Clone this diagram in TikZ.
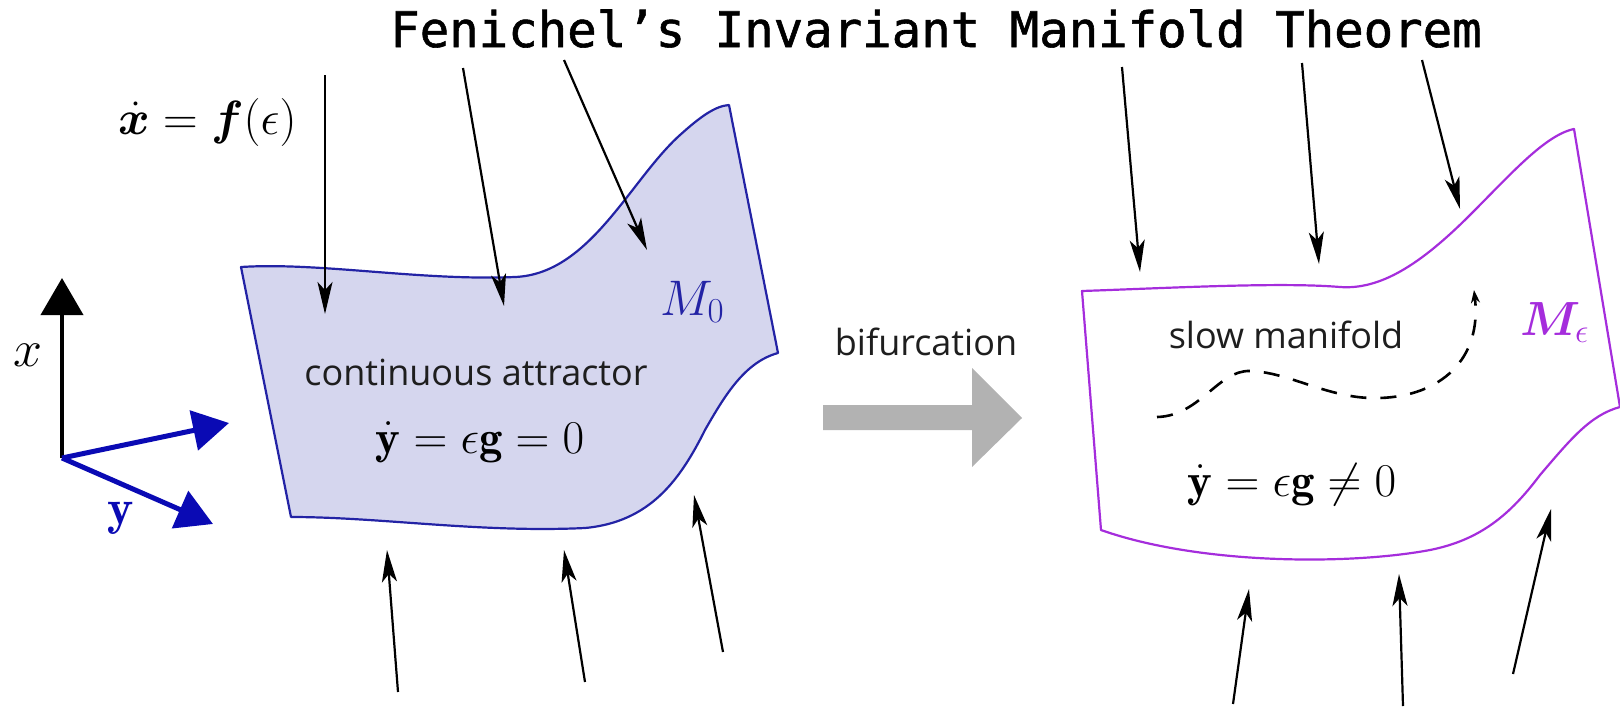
\RequirePackage{fix-cm}
\documentclass[tikz,border=0pt]{standalone}
\usepackage{amsmath,amssymb,bm}
\usepackage{fontspec}
\newfontfamily\titlefont[UprightFeatures={FakeBold=1.2}]{DejaVu Sans Mono}
\newfontfamily\labelfont{Open Sans}
\usetikzlibrary{arrows.meta}
\definecolor{mzero}{RGB}{35,35,165}
\definecolor{mfill}{RGB}{213,214,238}
\definecolor{meps}{RGB}{165,45,220}
\definecolor{axblue}{RGB}{10,10,180}
\definecolor{bigarrow}{RGB}{178,178,178}
\definecolor{txt}{RGB}{30,30,30}
\tikzset{
  flow/.style={line width=2.2pt,-{Stealth[length=32pt,width=15pt,inset=8pt]}},
  sanslabel/.style={font=\labelfont\fontsize{36}{40}\selectfont,text=txt,inner sep=0pt,anchor=base},
  eqlabel/.style={font=\fontsize{47}{50}\selectfont,inner sep=0pt,anchor=base},
  manifoldedge/.style={line width=2.2pt,line join=round}
}
\begin{document}
\begin{tikzpicture}[x=1pt,y=-1pt]
\useasboundingbox (0,0) rectangle (1620,707);
% title
\node[font=\titlefont\fontsize{49}{54}\selectfont,inner sep=0pt,anchor=base] (title) at (936,47) {Fenichel’s Invariant Manifold Theorem};

% left manifold
\path[fill=mfill,draw=mzero,manifoldedge] (241,267)
  .. controls (320,262) and (420,281) .. (515,277)
  .. controls (590,274) and (630,180) .. (680,135)
  .. controls (700,117) and (715,106) .. (729,105)
  -- (778,353)
  .. controls (745,362) and (725,395) .. (705,430)
  .. controls (680,480) and (650,522) .. (585,528)
  .. controls (480,533) and (380,517) .. (291,517)
  -- cycle;
\node[font=\fontsize{50}{54}\selectfont,text=mzero,inner sep=0pt,anchor=base west] (mzlabel) at (660,315) {$M_0$};
\node[sanslabel] (catt) at (476,385) {continuous attractor};
\node[eqlabel] (eqzero) at (480,453) {$\dot{\mathbf{y}}=\epsilon\mathbf{g}=0$};

% x-dot equation
\node[font=\fontsize{48}{52}\selectfont,inner sep=0pt,anchor=base west] (xdot) at (118,134) {$\dot{\bm{x}}=\bm{f}(\epsilon)$};

% axes
\coordinate (orig) at (62,458);
\coordinate (xtip) at (62,278);
\coordinate (y1tip) at (229,423);
\coordinate (y2tip) at (213,524);
\draw[line width=4pt,-{Triangle[length=37pt,width=42pt]}] (orig) -- (xtip);
\draw[line width=5pt,axblue,-{Triangle[length=36pt,width=40pt]}] (orig) -- (y1tip);
\draw[line width=5pt,axblue,-{Triangle[length=36pt,width=40pt]}] (orig) -- (y2tip);
\node[font=\fontsize{52}{56}\selectfont,inner sep=0pt] (xlab) at (28,355) {$x$};
\node[font=\fontsize{50}{54}\selectfont,text=axblue,inner sep=0pt] (ylab) at (121,518) {$\mathbf{y}$};

% left flow arrows
\coordinate (la1s) at (325,75);   \coordinate (la1e) at (325,314);
\coordinate (la2s) at (463,68);   \coordinate (la2e) at (504,306);
\coordinate (la3s) at (564,60);   \coordinate (la3e) at (647,250);
\coordinate (lb1s) at (398,692);  \coordinate (lb1e) at (387,550);
\coordinate (lb2s) at (585,682);  \coordinate (lb2e) at (564,550);
\coordinate (lb3s) at (723,652);  \coordinate (lb3e) at (694,495);
\draw[flow] (la1s) -- (la1e);
\draw[flow] (la2s) -- (la2e);
\draw[flow] (la3s) -- (la3e);
\draw[flow] (lb1s) -- (lb1e);
\draw[flow] (lb2s) -- (lb2e);
\draw[flow] (lb3s) -- (lb3e);

% bifurcation arrow
\node[sanslabel] (bif) at (926,355) {bifurcation};
\fill[bigarrow] (823,405) -- (972,405) -- (972,368) -- (1022,418) -- (972,467) -- (972,430) -- (823,430) -- cycle;

% right manifold
\draw[draw=meps,manifoldedge] (1082,291)
  .. controls (1170,288) and (1280,282) .. (1340,287)
  .. controls (1380,290) and (1420,265) .. (1470,215)
  .. controls (1510,175) and (1545,135) .. (1574,129)
  -- (1620,407)
  .. controls (1590,415) and (1570,440) .. (1540,475)
  .. controls (1510,515) and (1480,540) .. (1430,550)
  .. controls (1350,565) and (1200,565) .. (1101,530)
  -- cycle;
\node[font=\fontsize{48}{52}\selectfont,text=meps,inner sep=0pt,anchor=base west] (melabel) at (1520,335) {$\bm{M}_{\epsilon}$};
\node[sanslabel] (slow) at (1286,348) {slow manifold};
\node[eqlabel] (eqnz) at (1292,496) {$\dot{\mathbf{y}}=\epsilon\mathbf{g}\neq0$};
\coordinate (dstart) at (1157,417);
\coordinate (dend) at (1474,290);
\draw[line width=2.6pt,dash pattern=on 16pt off 14pt,-{Stealth[length=13pt,width=9pt]}] (dstart)
  .. controls (1200,416) and (1218,370) .. (1250,371)
  .. controls (1290,372) and (1330,400) .. (1380,398)
  .. controls (1440,396) and (1482,360) .. (dend);

% right flow arrows
\coordinate (ra1s) at (1122,67);  \coordinate (ra1e) at (1140,272);
\coordinate (ra2s) at (1302,63);  \coordinate (ra2e) at (1319,264);
\coordinate (ra3s) at (1422,60);  \coordinate (ra3e) at (1460,209);
\coordinate (rb1s) at (1233,704); \coordinate (rb1e) at (1249,589);
\coordinate (rb2s) at (1403,706); \coordinate (rb2e) at (1399,574);
\coordinate (rb3s) at (1513,674); \coordinate (rb3e) at (1551,509);
\draw[flow] (ra1s) -- (ra1e);
\draw[flow] (ra2s) -- (ra2e);
\draw[flow] (ra3s) -- (ra3e);
\draw[flow] (rb1s) -- (rb1e);
\draw[flow] (rb2s) -- (rb2e);
\draw[flow] (rb3s) -- (rb3e);
\end{tikzpicture}
\end{document}
